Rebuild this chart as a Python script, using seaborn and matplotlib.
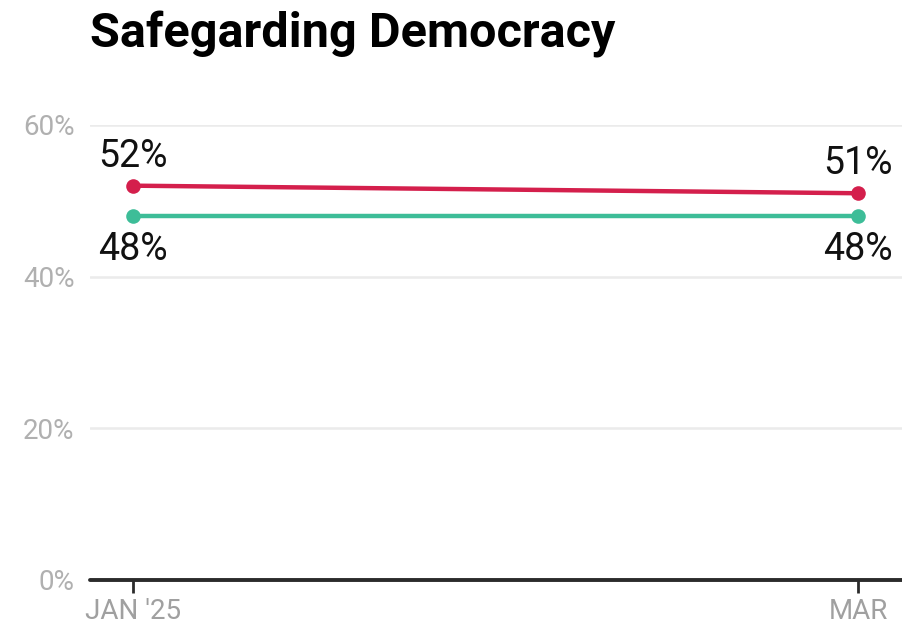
import pandas as pd
import matplotlib.pyplot as plt
import seaborn as sns

# survey values
periods = ["JAN '25", "MAR"]
red_values = [52, 51]
green_values = [48, 48]
y_ticks = [0, 20, 40, 60]

df = pd.DataFrame({
    "x": [0, 1, 0, 1],
    "value": red_values + green_values,
    "series": ["red", "red", "green", "green"],
})

sns.set_style("white")
plt.rcParams["font.family"] = ["Roboto", "DejaVu Sans"]

fig = plt.figure(figsize=(9.03, 6.31), dpi=100)
ax = fig.add_axes([90 / 903, 51 / 631, 813 / 903, 455 / 631])

palette = {"red": "#d41f4c", "green": "#3dbd98"}
sns.lineplot(data=df, x="x", y="value", hue="series", palette=palette,
             linewidth=3.2, marker="o", markersize=10.5, markeredgewidth=0,
             legend=False, ax=ax)

ax.set_xlim(-0.0593, 1.062)
ax.set_ylim(0, 60)
ax.set_yticks(y_ticks)
ax.set_yticklabels([f"{v}%" for v in y_ticks])
ax.set_xticks([0, 1])
ax.set_xticklabels(periods)
ax.set_xlabel("")
ax.set_ylabel("")

for y in y_ticks[1:]:
    ax.axhline(y, color="#ebebeb", linewidth=1.8, zorder=0)
ax.axhline(0, color="#2b2b2b", linewidth=2.8, zorder=1, clip_on=False)

for s in ax.spines.values():
    s.set_visible(False)

ax.tick_params(axis="y", length=0, pad=11, labelsize=20, labelcolor="#b0b0b0")
ax.tick_params(axis="x", bottom=True, length=9, width=2, color="#2b2b2b",
               pad=4, labelsize=20, labelcolor="#a0a0a0")

# value labels
for i, v in enumerate(red_values):
    ax.annotate(f"{v}%", (i, v), xytext=(0, 8), textcoords="offset points",
                ha="center", va="bottom", fontsize=27, color="#111111")
for i, v in enumerate(green_values):
    ax.annotate(f"{v}%", (i, v), xytext=(0, -11), textcoords="offset points",
                ha="center", va="top", fontsize=27, color="#111111")

fig.text(90 / 903, 1 - 34 / 631, "Safegarding Democracy", fontsize=35,
         fontweight="bold", va="center", ha="left", color="black")

fig.savefig("out.png", dpi=100, facecolor="white")
